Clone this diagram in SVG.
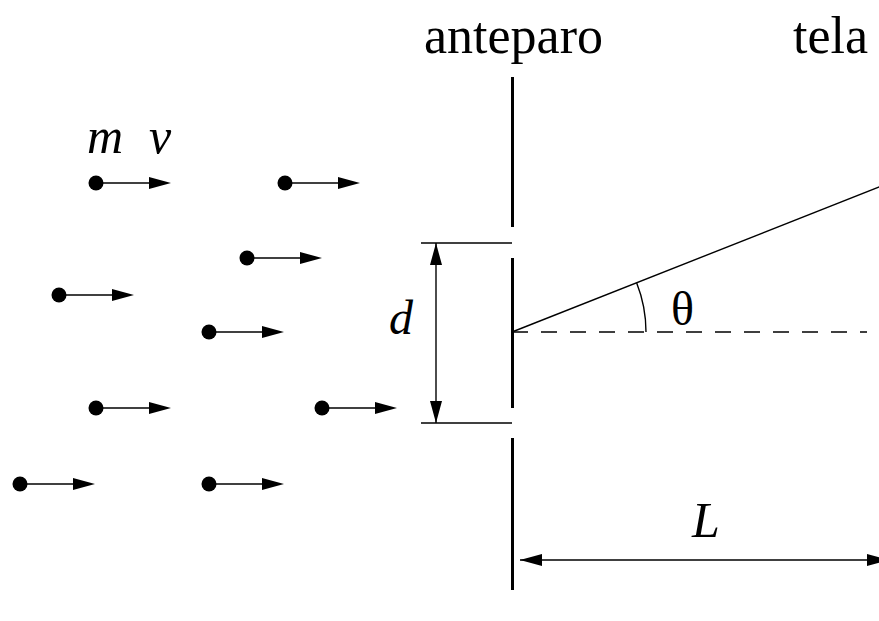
<svg xmlns="http://www.w3.org/2000/svg" xmlns:xlink="http://www.w3.org/1999/xlink" width="879" height="621" viewBox="0 0 879 621">
<style>
.txt{font-family:"Liberation Serif","Times New Roman",serif;fill:#000}
.it{font-style:italic}
.thin{stroke:#000;stroke-width:1.4;fill:none}
.wall{stroke:#000;stroke-width:3;fill:none}
.head{fill:#000;stroke:none}
</style>
<defs>
<g id="particle">
<circle cx="0" cy="0" r="7.5" fill="#000"/>
<line x1="0" y1="0" x2="55" y2="0" stroke="#000" stroke-width="1.5"/>
<polygon points="53,-6 75,0 53,6" fill="#000"/>
</g>
<marker id="ah" viewBox="0 0 22 12" refX="22" refY="6" markerWidth="22" markerHeight="12" markerUnits="userSpaceOnUse" orient="auto-start-reverse">
<polygon points="0,0 22,6 0,12" fill="#000"/>
</marker>
</defs>

<g id="anteparo">
<line class="wall" x1="512.5" y1="77" x2="512.5" y2="227"/>
<line class="wall" x1="512.5" y1="258" x2="512.5" y2="408"/>
<line class="wall" x1="512.5" y1="438" x2="512.5" y2="590"/>
<text class="txt" x="424" y="53" font-size="52">anteparo</text>
</g>
<g id="tela">
<text class="txt" x="793" y="53" font-size="52">tela</text>
</g>

<g id="p1"><use xlink:href="#particle" x="96" y="183"/></g>
<g id="p2"><use xlink:href="#particle" x="285" y="183"/></g>
<g id="p3"><use xlink:href="#particle" x="247" y="258"/></g>
<g id="p4"><use xlink:href="#particle" x="59" y="295"/></g>
<g id="p5"><use xlink:href="#particle" x="209" y="332"/></g>
<g id="p6"><use xlink:href="#particle" x="96" y="408"/></g>
<g id="p7"><use xlink:href="#particle" x="322" y="408"/></g>
<g id="p8"><use xlink:href="#particle" x="20" y="484"/></g>
<g id="p9"><use xlink:href="#particle" x="209" y="484"/></g>

<g id="labels">
<text class="txt it" x="87" y="153" font-size="50">m</text>
<text class="txt it" x="149" y="153" font-size="50">v</text>
<text class="txt it" x="389" y="334" font-size="48">d</text>
<text class="txt" x="671" y="325" font-size="48">θ</text>
<text class="txt it" x="692" y="537" font-size="50">L</text>
</g>

<g id="connectors">
<line class="thin" x1="421" y1="243" x2="512" y2="243"/>
<line class="thin" x1="421" y1="423" x2="512" y2="423"/>
<line class="thin" x1="436" y1="243" x2="436" y2="423" marker-start="url(#ah)" marker-end="url(#ah)"/>
<line class="thin" x1="512" y1="332" x2="890" y2="182.7"/>
<line class="thin" x1="512" y1="332" x2="867" y2="332" stroke-dasharray="16 13"/>
<path class="thin" d="M 646 332 A 134 134 0 0 0 636.7 282.9"/>
<line class="thin" x1="520" y1="560" x2="889" y2="560" marker-start="url(#ah)" marker-end="url(#ah)"/>
</g>
</svg>
